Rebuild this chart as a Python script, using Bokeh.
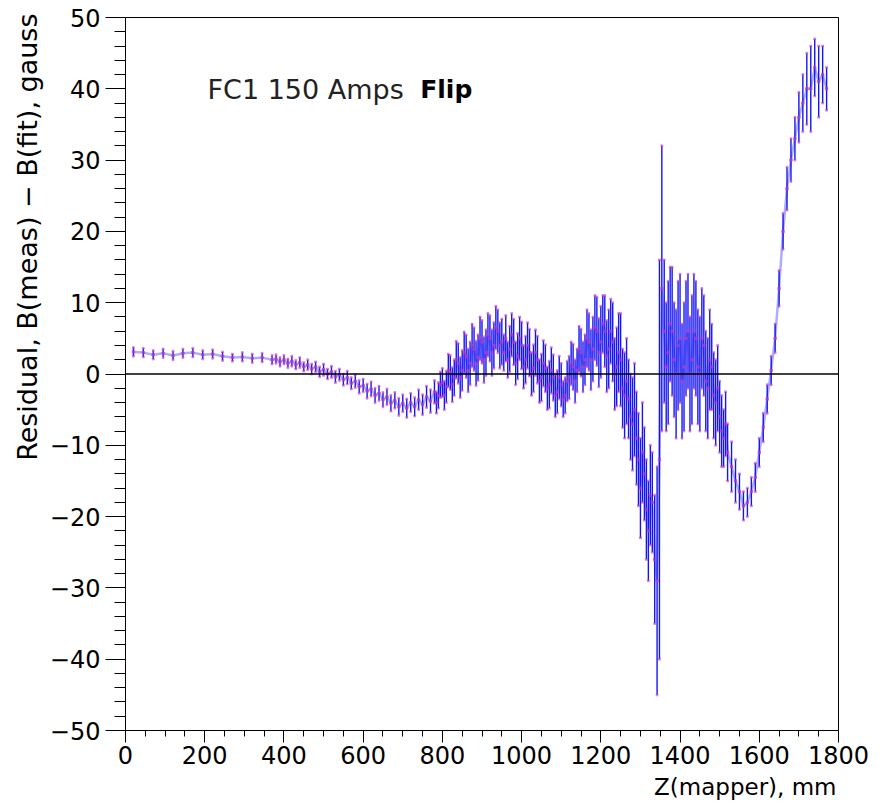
from bokeh.plotting import figure
from bokeh.models import Span, Label, Title, SingleIntervalTicker, ColumnDataSource, Range1d
from bokeh.embed import file_html
from bokeh.resources import INLINE

# ---------------- data ----------------
z_mm = [20, 45, 70, 95, 120, 145, 170, 195, 220, 245, 270, 295, 320, 345, 370,
        380, 390, 400, 410, 420, 430, 440, 450, 460, 470, 480, 490, 500, 510, 520,
        530, 540, 550, 560, 570, 580, 590, 600, 610, 620, 630, 640, 650, 660, 670,
        680, 690, 700, 710, 720, 730, 740, 750, 760, 770,
        780, 785, 790, 795, 800, 805, 810, 815, 820, 825, 830, 835, 840, 845, 850, 855,
        860, 865, 870, 875, 880, 885, 890, 895, 900, 905, 910, 915, 920, 925, 930, 935,
        940, 945, 950, 955, 960, 965, 970, 975, 980, 985, 990, 995, 1000, 1005, 1010, 1015,
        1020, 1025, 1030, 1035, 1040, 1045, 1050, 1055, 1060, 1065, 1070, 1075, 1080, 1085,
        1090, 1095, 1100, 1105, 1110, 1115, 1120, 1125, 1130, 1135, 1140, 1145, 1150, 1155,
        1160, 1165, 1170, 1175, 1180, 1185, 1190, 1195, 1200, 1205, 1210, 1215, 1220, 1225,
        1230, 1235, 1240, 1245, 1250, 1255, 1260, 1265, 1270, 1275, 1280, 1285, 1290, 1295,
        1300, 1305, 1310, 1315, 1320, 1325, 1330, 1336, 1342, 1348, 1354,
        1360, 1365, 1370, 1375, 1380, 1385, 1390, 1395, 1400, 1405, 1410, 1415, 1420, 1425,
        1430, 1435, 1440, 1445, 1450, 1455, 1460, 1465, 1470, 1475, 1480, 1485, 1490, 1495,
        1500, 1505, 1510, 1515, 1520,
        1530, 1540, 1550, 1560, 1570, 1580, 1590, 1600, 1610, 1620, 1630, 1640, 1650, 1660,
        1670, 1680, 1690, 1700, 1710, 1720, 1730, 1740, 1750, 1760, 1770]

resid = [3.1, 3.0, 2.7, 2.9, 2.6, 2.9, 3.0, 2.7, 2.8, 2.5, 2.3, 2.4, 2.2, 2.3, 2.0,
         2.1, 1.7, 2.0, 1.5, 1.8, 1.3, 1.6, 1.0, 1.3, 0.7, 1.0, 0.3, 0.6, 0.0, 0.3,
         -0.4, -0.1, -0.8, -0.5, -1.3, -1.0, -1.8, -1.6, -2.4, -2.1, -3.0, -2.7, -3.6, -3.2, -4.1,
         -3.7, -4.6, -4.1, -4.8, -4.0, -4.6, -3.6, -4.3, -3.2, -3.8,
         -2.5, -4.0, -3.0, -1.5, -1.2, -3.0, -1.8, 0.5, 0.2, -1.5, -0.5, 2.0, 1.5, -0.5, 0.5, 3.0,
         2.5, 0.5, 1.5, 4.0, 3.5, 1.5, 2.3, 5.0, 4.5, 2.0, 3.0, 5.5, 5.0, 3.0, 4.0, 6.5,
         6.0, 4.0, 4.5, 3.0, 5.0, 2.0, 3.5, 5.5, 4.5, 1.5, 2.5, 5.0, 4.0, 1.0, 2.0, 4.0,
         3.0, 0.0, 0.8, 3.0, 2.0, -1.0, -0.5, 1.5, 0.8, -2.0, -1.5, 0.5, -0.5, -3.0,
         -2.5, -0.5, -1.5, -3.5, -3.0, -1.0, -0.5, 1.5, 1.0, -1.0, 0.5, 3.5, 3.0, 1.0,
         2.0, 5.0, 4.5, 2.0, 3.5, 6.5, 6.0, 3.0, 4.5, 7.0, 6.0, 2.5, 3.5, 6.0,
         4.5, 0.0, 1.0, 3.0, 2.0, -2.0, -3.0, -1.0, -3.5, -6.0, -7.0, -5.0, -9.0, -12.0,
         -16.0, -11.0, -14.0, -19.0, -22.0, -17.0, -18.0, -26.0, -29.0, -12.0, 12.0,
         6.0, 1.0, 3.0, 7.0, 6.0, 2.0, 0.0, 4.0, 5.0, -1.0, 1.0, 5.0, 6.0, 0.0,
         2.0, 6.0, 5.0, 1.0, 0.0, 5.0, 4.0, -1.0, -2.0, 2.0, 1.0, -3.0, -4.0, -2.0,
         -6.0, -8.0, -9.0, -7.0, -11.0,
         -13.0, -15.0, -16.5, -18.5, -18.0, -16.5, -14.5, -11.0, -7.5, -3.5, 0.5, 5.0, 12.0, 20.0,
         26.0, 30.0, 33.0, 36.0, 38.0, 40.0, 40.0, 43.0, 41.0, 42.0, 40.0]

err = [0.6, 0.6, 0.6, 0.6, 0.6, 0.6, 0.6, 0.6, 0.6, 0.6, 0.5, 0.6, 0.6, 0.6, 0.6,
       0.6, 0.6, 0.6, 0.6, 0.7, 0.6, 0.7, 0.6, 0.7, 0.7, 0.7, 0.7, 0.8, 0.7, 0.8,
       0.8, 0.8, 0.8, 0.9, 0.8, 0.9, 0.9, 0.9, 1.0, 1.0, 1.0, 1.0, 1.0, 1.1, 1.1,
       1.1, 1.2, 1.2, 1.3, 1.3, 1.3, 1.4, 1.4, 1.5, 1.6,
       1.6, 1.5, 1.8, 1.8, 2.0, 2.0, 2.2, 2.3, 2.4, 2.4, 2.5, 2.6, 2.8, 2.8, 2.8, 2.9,
       3.0, 3.0, 3.0, 3.0, 3.0, 3.1, 3.2, 3.0, 3.0, 3.2, 3.2, 3.0, 3.2, 3.2, 3.2, 3.0,
       3.0, 3.2, 3.2, 2.5, 3.2, 2.5, 3.2, 3.0, 3.2, 3.0, 3.2, 3.0, 3.3, 3.0, 3.3, 3.2,
       3.3, 3.0, 3.3, 3.2, 3.3, 3.0, 3.3, 3.2, 3.3, 3.0, 3.3, 3.2, 3.2, 3.0,
       3.0, 3.0, 3.0, 2.5, 2.5, 2.8, 3.0, 3.0, 3.2, 3.0, 3.0, 3.2, 3.3, 3.5,
       3.5, 4.0, 4.0, 4.2, 4.5, 4.5, 4.8, 4.8, 5.0, 4.0, 5.0, 5.0, 5.5, 4.5,
       5.5, 5.0, 5.5, 5.5, 6.5, 5.5, 6.0, 6.0, 5.5, 6.0, 6.5, 6.5, 6.5, 6.5,
       7.0, 7.0, 6.5, 7.0, 7.0, 7.0, 7.0, 9.0, 16.0, 28.0, 20.0,
       10.0, 9.0, 10.0, 8.0, 9.0, 8.0, 9.0, 9.0, 9.0, 8.0, 9.0, 8.0, 8.0, 8.0,
       9.0, 8.0, 8.0, 8.0, 8.0, 7.0, 7.0, 7.0, 7.0, 7.0, 6.0, 6.0, 6.0, 6.0,
       5.0, 5.0, 4.0, 4.5, 4.0,
       3.5, 3.0, 2.5, 2.0, 2.0, 2.0, 2.0, 2.0, 2.0, 2.0, 2.0, 2.0, 2.5, 2.5,
       3.0, 3.0, 3.0, 3.5, 4.0, 5.0, 6.0, 4.0, 5.0, 4.0, 3.0]

x_ticks = [0, 200, 400, 600, 800, 1000, 1200, 1400, 1600, 1800]
y_ticks = [-50, -40, -30, -20, -10, 0, 10, 20, 30, 40, 50]
y_tick_labels = ["\u221250", "\u221240", "\u221230", "\u221220", "\u221210", "0",
                 "10", "20", "30", "40", "50"]

title_text = "FC1 150 Amps"
title_bold = "Flip"
x_title = "Z(mapper), mm"
y_title = "Residual, B(meas) \u2212 B(fit), gauss"

# ---------------- figure ----------------
FONT = "DejaVu Sans"

p = figure(frame_width=713, frame_height=713,
           min_border_left=125, min_border_top=17, min_border_right=40, min_border_bottom=70,
           x_range=Range1d(x_ticks[0], x_ticks[-1]), y_range=Range1d(y_ticks[0], y_ticks[-1]),
           output_backend="svg", toolbar_location=None, background_fill_color="white",
           border_fill_color="white")
p.grid.visible = False
p.outline_line_color = "black"
p.outline_line_width = 1

lo = [v - e for v, e in zip(resid, err)]
hi = [v + e for v, e in zip(resid, err)]
src = ColumnDataSource(dict(x=z_mm, y=resid, lo=lo, hi=hi))

p.line("x", "y", source=src, line_color="#4a4aff", line_alpha=0.45, line_width=2.5)
p.segment(x0="x", y0="lo", x1="x", y1="hi", source=src, line_color="#1414f5", line_width=1.4)
p.scatter("x", "lo", source=src, marker="square", size=2, color="#c040c0", alpha=0.45)
p.scatter("x", "hi", source=src, marker="square", size=2, color="#c040c0", alpha=0.45)
p.scatter("x", "y", source=src, marker="square", size=2.5, color="#c040c0", alpha=0.6)

p.add_layout(Span(location=0, dimension="width", line_color="black", line_width=1.5))

# axes
xa = p.xaxis[0]
xa.ticker = SingleIntervalTicker(interval=200, num_minor_ticks=4)
xa.major_tick_out = 12
xa.major_tick_in = 0
xa.minor_tick_out = 6
xa.minor_tick_in = 0
xa.major_label_standoff = 3
xa.major_label_text_font = FONT
xa.major_label_text_font_size = "24px"
xa.major_label_text_color = "black"
xa.axis_line_color = "black"
xa.major_tick_line_color = "black"
xa.minor_tick_line_color = "black"

ya = p.yaxis[0]
ya.ticker = SingleIntervalTicker(interval=10, num_minor_ticks=5)
ya.major_tick_out = 20
ya.major_tick_in = 0
ya.minor_tick_out = 11
ya.minor_tick_in = 0
ya.major_label_standoff = 5
ya.major_label_text_font = FONT
ya.major_label_text_font_size = "24px"
ya.major_label_text_color = "black"
ya.major_label_overrides = {t: s for t, s in zip(y_ticks, y_tick_labels)}
ya.axis_line_color = "black"
ya.major_tick_line_color = "black"
ya.minor_tick_line_color = "black"

# titles / annotations
p.add_layout(Label(x=207, y=39.9, text=title_text, text_font=FONT, text_font_size="27px",
                   text_color="#222222", text_baseline="alphabetic", text_align="left"))
p.add_layout(Label(x=744, y=39.9, text=title_bold, text_font=FONT, text_font_size="25px",
                   text_font_style="bold", text_color="black", text_baseline="alphabetic",
                   text_align="left"))

p.add_layout(Title(text=x_title, align="right", text_font=FONT, text_font_size="23px",
                   text_font_style="normal", text_color="black", standoff=10, offset=2),
             "below")
p.add_layout(Title(text=y_title, align="right", text_font=FONT, text_font_size="27px",
                   text_font_style="normal", text_color="black", standoff=8, offset=-4),
             "left")

open("out.html", "w").write(file_html(p, INLINE))
